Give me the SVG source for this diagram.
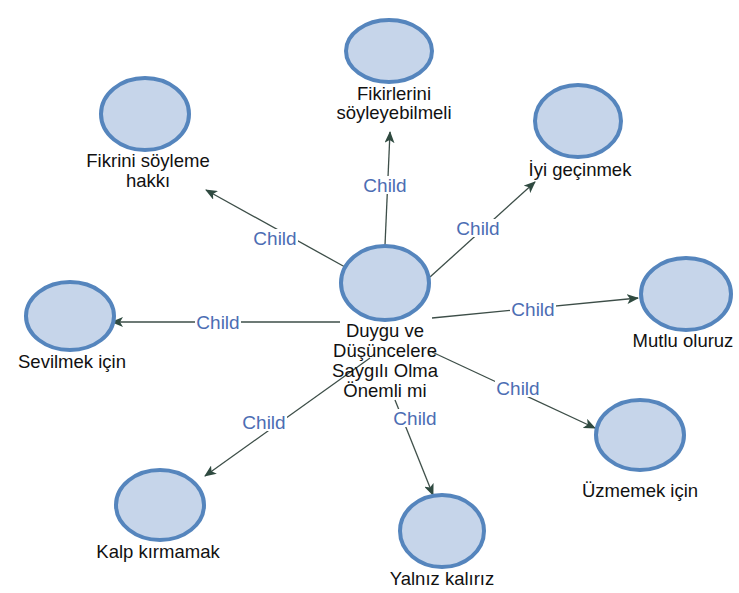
<svg xmlns="http://www.w3.org/2000/svg" width="739" height="593" viewBox="0 0 739 593">
<style>
.node ellipse{fill:#c6d5ea;stroke:#5585bd;stroke-width:4}
.node text{font-family:"Liberation Sans",Arial,sans-serif;font-size:18.5px;fill:#111;text-anchor:middle}
.edge line{stroke:#3d4e48;stroke-width:1.3;marker-end:url(#arr)}
.lbl{font-family:"Liberation Sans",Arial,sans-serif;font-size:19px;fill:#4c6db3;text-anchor:middle;dominant-baseline:central}
.lblbg{fill:#fff}
</style>
<defs>
<marker id="arr" viewBox="0 0 12 10" refX="11" refY="5" markerWidth="12" markerHeight="10" markerUnits="userSpaceOnUse" orient="auto">
<path d="M0,0 L12,5 L0,10 L3,5 Z" fill="#2f4a40"/>
</marker>
</defs>
<rect width="739" height="593" fill="#fff"/>
<g id="connectors">
<g class="edge"><line x1="385" y1="245" x2="390" y2="132"/><rect class="lblbg" x="362" y="176" width="46" height="18"/><text class="lbl" x="385" y="185">Child</text></g>
<g class="edge"><line x1="345" y1="267" x2="206" y2="190"/><rect class="lblbg" x="252" y="229" width="46" height="18"/><text class="lbl" x="275" y="238">Child</text></g>
<g class="edge"><line x1="430" y1="277" x2="535" y2="182"/><rect class="lblbg" x="455" y="219" width="46" height="18"/><text class="lbl" x="478" y="228">Child</text></g>
<g class="edge"><line x1="340" y1="322" x2="112" y2="322"/><rect class="lblbg" x="195" y="313" width="46" height="18"/><text class="lbl" x="218" y="322">Child</text></g>
<g class="edge"><line x1="432" y1="318" x2="638" y2="298"/><rect class="lblbg" x="510" y="300" width="46" height="18"/><text class="lbl" x="533" y="309">Child</text></g>
<g class="edge"><line x1="432" y1="352" x2="595" y2="428"/><rect class="lblbg" x="495" y="379" width="46" height="18"/><text class="lbl" x="518" y="388">Child</text></g>
<g class="edge"><line x1="395" y1="400" x2="433" y2="495"/><rect class="lblbg" x="392" y="409" width="46" height="18"/><text class="lbl" x="415" y="418">Child</text></g>
<g class="edge"><line x1="370" y1="358" x2="205" y2="476"/><rect class="lblbg" x="241" y="413" width="46" height="18"/><text class="lbl" x="264" y="422">Child</text></g>
</g>
<g id="n-center" class="node"><ellipse cx="385" cy="283" rx="44" ry="37"/><text x="385" y="337">Duygu ve</text><text x="385" y="357">Düşüncelere</text><text x="385" y="377">Saygılı Olma</text><text x="385" y="397">Önemli mi</text></g>
<g id="n-fikirlerini" class="node"><ellipse cx="389" cy="51" rx="43" ry="31"/><text x="394" y="100">Fikirlerini</text><text x="394" y="119">söyleyebilmeli</text></g>
<g id="n-fikrini" class="node"><ellipse cx="145" cy="114" rx="44" ry="36"/><text x="148" y="167">Fikrini söyleme</text><text x="148" y="187">hakkı</text></g>
<g id="n-iyi" class="node"><ellipse cx="578" cy="121" rx="43" ry="36"/><text x="580" y="176">İyi geçinmek</text></g>
<g id="n-sevilmek" class="node"><ellipse cx="70" cy="316" rx="44" ry="34"/><text x="72" y="368">Sevilmek için</text></g>
<g id="n-mutlu" class="node"><ellipse cx="686" cy="294" rx="45" ry="36"/><text x="683" y="347">Mutlu oluruz</text></g>
<g id="n-uzmemek" class="node"><ellipse cx="640" cy="435" rx="44" ry="35"/><text x="640" y="497">Üzmemek için</text></g>
<g id="n-yalniz" class="node"><ellipse cx="442" cy="531" rx="42" ry="36"/><text x="442" y="585">Yalnız kalırız</text></g>
<g id="n-kalp" class="node"><ellipse cx="160" cy="505" rx="44" ry="35"/><text x="158" y="558">Kalp kırmamak</text></g>
</svg>
